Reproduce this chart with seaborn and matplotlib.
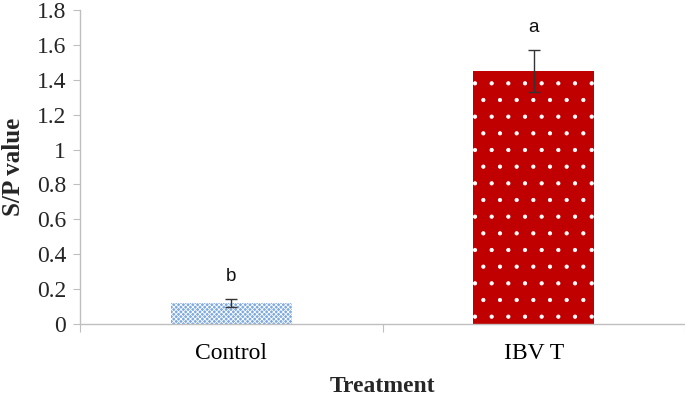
import matplotlib
matplotlib.use("Agg")
import matplotlib.pyplot as plt
import seaborn as sns
import pandas as pd

categories = ["Control", "IBV T"]
values = [0.12, 1.45]
errors = [0.023, 0.12]
letters = ["b", "a"]
bar_colors = ["#7eaadf", "#c00000"]
hatches = ["xxxxxxx", "."]

sns.set_theme(style="white")
plt.rcParams["font.family"] = ["Liberation Serif", "DejaVu Serif"]
plt.rcParams["hatch.linewidth"] = 0.6

fig = plt.figure(figsize=(6.85, 3.97), dpi=100)
ax = fig.add_axes([80/685, 1-324/397, 605/685, 314/397])

df = pd.DataFrame({"Treatment": categories, "S/P value": values})
sns.barplot(data=df, x="Treatment", y="S/P value", hue="Treatment",
            palette=bar_colors, width=0.4, ax=ax, legend=False, errorbar=None)

for patch, h, c in zip(ax.patches, hatches, bar_colors):
    patch.set_hatch(h)
    patch.set_edgecolor("white")
    patch.set_linewidth(0)
    patch.set_facecolor(c)

xs = list(range(len(categories)))
ax.errorbar(xs, values, yerr=errors, fmt="none", ecolor="#333333",
            elinewidth=1.0, capsize=4, capthick=1.0)

for x, v, e, l in zip(xs, values, errors, letters):
    ax.text(x, v + e + 0.08, l, ha="center", va="bottom", fontsize=13.5,
            family=["Liberation Sans", "DejaVu Sans"], color="#111111")

ax.set_ylim(0, 1.8)
ax.set_yticks([0, 0.2, 0.4, 0.6, 0.8, 1.0, 1.2, 1.4, 1.6, 1.8])
ax.set_yticklabels(["0", "0.2", "0.4", "0.6", "0.8", "1", "1.2", "1.4", "1.6", "1.8"])
ax.set_xlim(-0.5, 1.5)

ax.set_xticks([-0.5, 0.5, 1.5], minor=False)
ax.set_xticklabels([])
ax.set_xticks(xs, minor=True)
ax.set_xticklabels(categories, minor=True)

ax.tick_params(axis="x", which="major", length=6, width=0.8, color="#bfbfbf", direction="out", bottom=True)
ax.tick_params(axis="x", which="minor", length=0, labelsize=17, pad=14, colors="black", bottom=True)
ax.tick_params(axis="y", length=5, width=0.8, color="#bfbfbf", direction="out", labelsize=17, left=True, pad=5)

for s in ["top", "right"]:
    ax.spines[s].set_visible(False)
for s in ["left", "bottom"]:
    ax.spines[s].set_color("#bfbfbf")
    ax.spines[s].set_linewidth(1.0)

ax.set_xlabel("Treatment", fontsize=17, fontweight="bold", labelpad=8)
ax.set_ylabel("S/P value", fontsize=18, fontweight="bold")
ax.yaxis.label.set_va("center")
ax.yaxis.set_label_coords(-(80 - 14) / 605, 0.5)

fig.savefig("out.png", dpi=100)
